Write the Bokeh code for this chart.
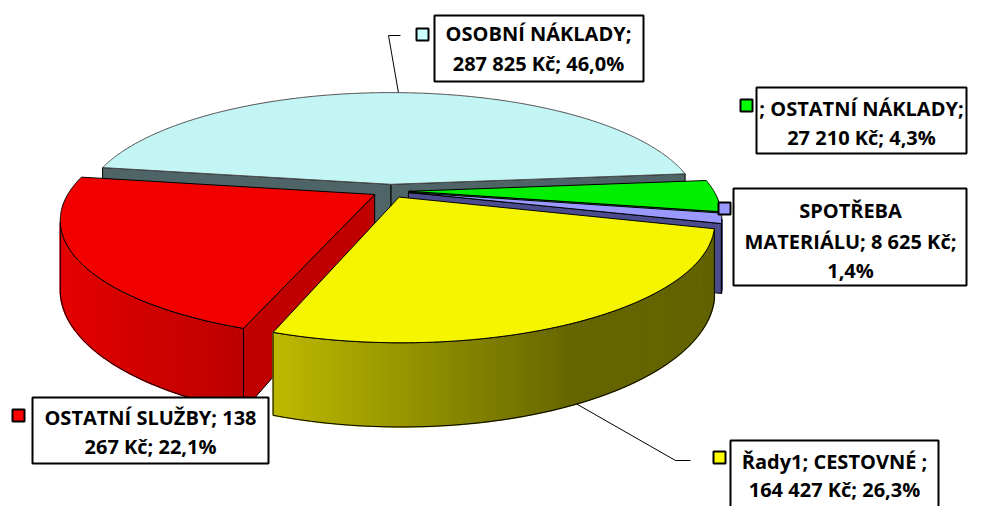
import numpy as np
from bokeh.plotting import figure
from bokeh.models import Range1d
from bokeh.core.properties import value
from bokeh.embed import file_html
from bokeh.resources import INLINE

# ---------------- data ----------------
categories = ["OSOBNÍ NÁKLADY", "OSTATNÍ NÁKLADY", "SPOTŘEBA MATERIÁLU", "CESTOVNÉ", "OSTATNÍ SLUŽBY"]
amounts = [287825, 27210, 8625, 164427, 138267]
series_name = "Řady1"
label_lines = [
    ["OSOBNÍ NÁKLADY;", "287 825 Kč; 46,0%"],
    ["; OSTATNÍ NÁKLADY;", "27 210 Kč; 4,3%"],
    ["SPOTŘEBA", "MATERIÁLU; 8 625 Kč;", "1,4%"],
    ["Řady1; CESTOVNÉ ;", "164 427 Kč; 26,3%"],
    ["OSTATNÍ SLUŽBY; 138", "267 Kč; 22,1%"],
]

# ---------------- style / layout ----------------
top_colors = ["#C4F5F5", "#00F000", "#9999FF", "#F5F500", "#F20000"]
key_colors = ["#CCFFFF", "#00FF00", "#9999FF", "#FFFF00", "#FF0000"]
cut_colors = ["#4E6466", "#00B000", "#4C4C8C", "#969600", "#C00000"]
side_stops = [
    [(0, (78, 100, 102)), (985, (78, 100, 102))],
    [(0, (0, 185, 0)), (985, (0, 185, 0))],
    [(0, (72, 72, 135)), (985, (72, 72, 135))],
    [(270, (190, 186, 0)), (570, (102, 102, 0)), (720, (98, 98, 0))],
    [(60, (228, 0, 0)), (250, (186, 0, 0))],
]
CX, CY = 390.0, 190.5
A, B, K, H = 305.0, 113.0, 0.205, 66.0
EXPLODE = 0.06
START = 171.0
FONT_SIZE = "20px"

# label layout: box (left, right, top, bottom), text center x, line centers, key center
boxes = [
    (434, 643, 15, 81, 538, [33, 63], (422, 34)),
    (756, 966, 87, 153, 861, [108, 137], (746, 105)),
    (733, 966, 188, 285, 850, [210, 241, 270], (724, 208)),
    (730, 938, 440, 512, 834, [461, 489], (719, 457)),
    (32, 268, 397, 463, 150, [417, 446], (18, 415)),
]
leader_ends = [[(388, 35), (400, 35)], [(675, 460), (690, 460)]]


def proj(u, v, z):
    d = 1 + K * v
    return CX + A * u / d, CY + (-B * v + H * z) / d


def grad(stops, x):
    xs = [s[0] for s in stops]
    cols = []
    for xv in np.atleast_1d(x):
        c = [int(round(np.interp(xv, xs, [s[1][ch] for s in stops]))) for ch in range(3)]
        cols.append("#%02X%02X%02X" % tuple(c))
    return cols


p = figure(width=969, height=506, x_range=Range1d(0, 969), y_range=Range1d(506, 0),
           output_backend="svg", toolbar_location=None, min_border=0,
           x_axis_location=None, y_axis_location=None)
p.grid.visible = False
p.outline_line_color = None
p.background_fill_color = "white"
p.border_fill_color = "white"

total = float(sum(amounts))
faces = []
tops = []
mids = []
cum = 0.0
C = (0.0, -1.0 / K)
for i, amt in enumerate(amounts):
    a0 = START - 360.0 * cum / total
    a1 = a0 - 360.0 * amt / total
    cum += amt
    mid = np.radians((a0 + a1) / 2)
    ox, oy = EXPLODE * np.cos(mid), EXPLODE * np.sin(mid)
    mids.append((mid, ox, oy))
    n = max(10, int(abs(a0 - a1) * 2))
    th = np.radians(np.linspace(a0, a1, n))
    tx, ty = proj(np.cos(th) + ox, np.sin(th) + oy, 0)
    ax, ay = proj(ox, oy, 0)
    tops.append((np.r_[ax, tx], np.r_[ay, ty], i))

    # outer curved side (visible part only)
    fine = np.radians(np.linspace(a0, a1, max(12, int(abs(a0 - a1)))))
    vis = (-np.sin(fine) / K - (1 + ox * np.cos(fine) + oy * np.sin(fine))) > 0
    if vis.any():
        idx = np.where(vis)[0]
        thv = fine[idx[0]:idx[-1] + 1]
        uu, vv = np.cos(thv) + ox, np.sin(thv) + oy
        x0, y0 = proj(uu, vv, 0)
        x1, y1 = proj(uu, vv, 1)
        sx, sy = [], []
        for j in range(len(thv) - 1):
            sx.append([x0[j], x0[j + 1], x1[j + 1], x1[j]])
            sy.append([y0[j], y0[j + 1], y1[j + 1], y1[j]])
        sc = grad(side_stops[i], [(x0[j] + x0[j + 1]) / 2 for j in range(len(thv) - 1)])
        outline = (np.r_[x0, x1[::-1], x0[0]], np.r_[y0, y1[::-1], y0[0]])
        faces.append((float(np.mean(vv)), "side", (sx, sy, sc, outline)))

    # radial cut faces
    for ang, nang in ((a0, a0 + 90), (a1, a1 - 90)):
        nr = np.radians(nang)
        if (C[0] - ox) * np.cos(nr) + (C[1] - oy) * np.sin(nr) > 0:
            ar = np.radians(ang)
            ru, rv = np.cos(ar) + ox, np.sin(ar) + oy
            pu = np.array([ox, ru, ru, ox])
            pv = np.array([oy, rv, rv, oy])
            pz = np.array([0, 0, 1, 1])
            px, py = proj(pu, pv, pz)
            faces.append((float((oy + rv) / 2), "cut", (px, py, cut_colors[i])))

faces.sort(key=lambda f: -f[0])
for depth, kind, dat in faces:
    if kind == "side":
        sx, sy, sc, outline = dat
        p.patches(sx, sy, fill_color=sc, line_color=sc, line_width=1.5)
        p.patch(outline[0], outline[1], fill_alpha=0, line_color="black", line_width=1)
    else:
        px, py, col = dat
        p.patch(px, py, fill_color=col, line_color="black", line_width=1)

for tx, ty, i in tops:
    lc = "#505050" if i == 0 else "black"
    p.patch(tx, ty, fill_color=top_colors[i], line_color=lc, line_width=1)

# leader lines
mid0, ox0, oy0 = mids[0]
lx, ly = proj(np.cos(mid0) + ox0, np.sin(mid0) + oy0, 0)
p.line([lx] + [q[0] for q in leader_ends[0]], [ly] + [q[1] for q in leader_ends[0]],
       line_color="black", line_width=1)
mid3, ox3, oy3 = mids[3]
lx, ly = proj(np.cos(mid3) + ox3, np.sin(mid3) + oy3, 1)
p.line([lx] + [q[0] for q in leader_ends[1]], [ly] + [q[1] for q in leader_ends[1]],
       line_color="black", line_width=1)

# labels
for i, (l, r, t, b, tcx, ys, key) in enumerate(boxes):
    p.quad(left=[l], right=[r], top=[t], bottom=[b], fill_color="white",
           line_color="black", line_width=2)
    p.text(x=[tcx] * len(ys), y=ys, text=label_lines[i],
           text_font=value("Open Sans"), text_font_style="bold", text_font_size=FONT_SIZE,
           text_align="center", text_baseline="middle", text_color="black")
    p.rect(x=[key[0]], y=[key[1]], width=12, height=12, fill_color=key_colors[i],
           line_color="black", line_width=2)

open("out.html", "w").write(file_html(p, INLINE))
